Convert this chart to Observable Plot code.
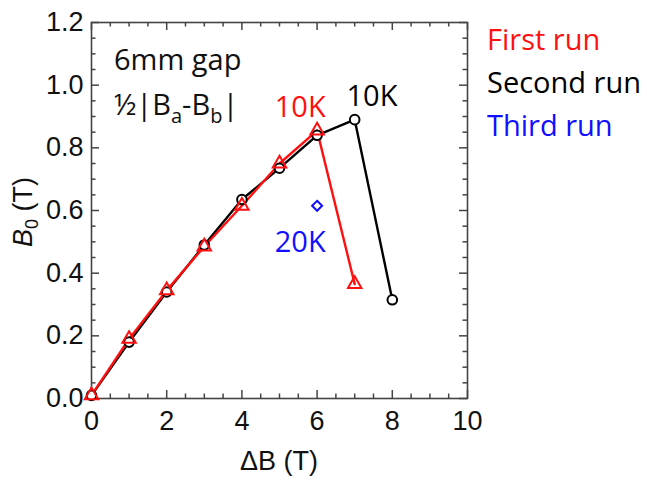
<!DOCTYPE html>
<html><head><meta charset="utf-8">
<script src="https://cdn.jsdelivr.net/npm/d3@7"></script>
<script src="https://cdn.jsdelivr.net/npm/@observablehq/plot@0.6"></script>
<style>body{margin:0;background:#fff}#chart{width:647px;height:480px}</style>
</head><body><div id="chart"></div>
<script>
// ---- data ----
const deltaBFirst = [0, 1, 2, 3, 4, 5, 6, 7];
const firstRun    = [0.01, 0.19, 0.345, 0.485, 0.615, 0.75, 0.855, 0.365];
const deltaBSecond = [0, 1, 2, 3, 4, 5, 6, 7, 8];
const secondRun    = [0.01, 0.18, 0.34, 0.49, 0.635, 0.735, 0.84, 0.89, 0.315];
const deltaBThird = [6];
const thirdRun    = [0.615];
const xTicks = [0, 2, 4, 6, 8, 10];
const yTicks = [0, 0.2, 0.4, 0.6, 0.8, 1.0, 1.2];
const xMinorTicks = [0.5,1,1.5,2.5,3,3.5,4.5,5,5.5,6.5,7,7.5,8.5,9,9.5];
const yMinorTicks = [0.05,0.1,0.15,0.25,0.3,0.35,0.45,0.5,0.55,0.65,0.7,0.75,0.85,0.9,0.95,1.05,1.1,1.15];
const tempLabels = ["10K", "10K", "20K"];
const tempLabelX = [5.55, 7.46, 5.55];
const tempLabelY = [0.929, 0.963, 0.497];
const legendNames = ["First run", "Second run", "Third run"];

const RED = "#ff1010", BLACK = "#000000", BLUE = "#1010ff";
const runColors = [RED, BLACK, BLUE];
const labelColors = [RED, BLACK, BLUE];

const first = deltaBFirst.map((x, i) => ({x, y: firstRun[i]}));
const second = deltaBSecond.map((x, i) => ({x, y: secondRun[i]}));
const third = deltaBThird.map((x, i) => ({x, y: thirdRun[i]}));
const labels = tempLabels.map((t, i) => ({t, x: tempLabelX[i], y: tempLabelY[i], c: labelColors[i]}));

const tickFont = "Liberation Sans, Arial, sans-serif";
const annFont = "Open Sans, sans-serif";
const frameColor = "#444";

const W = 647, H = 480, ML = 91, MR = 180, MT = 22, MB = 82;
const innerW = W - ML - MR, innerH = H - MT - MB;
const xDom = [0, 10], yDom = [0, 1.2];
// tick lengths in pixels, converted to data units
const MAJ = 8, MIN = 4.5;
const pxX = (xDom[1] - xDom[0]) / innerW, pxY = (yDom[1] - yDom[0]) / innerH;
const ts = {stroke: frameColor, strokeWidth: 1.5};

const plot = Plot.plot({
  width: W, height: H,
  marginLeft: ML, marginRight: MR, marginTop: MT, marginBottom: MB,
  x: {domain: xDom},
  y: {domain: yDom},
  style: {background: "white"},
  marks: [
    // inward ticks on all four sides
    Plot.ruleX(xTicks, {x: d => d, y1: yDom[0], y2: yDom[0] + MAJ * pxY, ...ts}),
    Plot.ruleX(xTicks, {x: d => d, y1: yDom[1], y2: yDom[1] - MAJ * pxY, ...ts}),
    Plot.ruleX(xMinorTicks, {x: d => d, y1: yDom[0], y2: yDom[0] + MIN * pxY, ...ts}),
    Plot.ruleX(xMinorTicks, {x: d => d, y1: yDom[1], y2: yDom[1] - MIN * pxY, ...ts}),
    Plot.ruleY(yTicks, {y: d => d, x1: xDom[0], x2: xDom[0] + MAJ * pxX, ...ts}),
    Plot.ruleY(yTicks, {y: d => d, x1: xDom[1], x2: xDom[1] - MAJ * pxX, ...ts}),
    Plot.ruleY(yMinorTicks, {y: d => d, x1: xDom[0], x2: xDom[0] + MIN * pxX, ...ts}),
    Plot.ruleY(yMinorTicks, {y: d => d, x1: xDom[1], x2: xDom[1] - MIN * pxX, ...ts}),
    // tick labels
    Plot.axisX(xTicks, {anchor: "bottom", tickSize: 0, tickPadding: 12, label: null, tickFormat: d3.format("d"), fontSize: 27, fontFamily: tickFont, fill: "#111"}),
    Plot.axisY(yTicks, {anchor: "left", tickSize: 0, tickPadding: 8, label: null, tickFormat: d3.format(".1f"), fontSize: 27, fontFamily: tickFont, fill: "#111"}),
    Plot.frame({stroke: frameColor, strokeWidth: 1.6}),
    // data
    Plot.line(second, {x: "x", y: "y", stroke: BLACK, strokeWidth: 2.4}),
    Plot.line(first, {x: "x", y: "y", stroke: RED, strokeWidth: 2.4}),
    Plot.dot(second, {x: "x", y: "y", r: 4.8, stroke: BLACK, fill: "white", strokeWidth: 2}),
    Plot.dot(first, {x: "x", y: "y", symbol: "triangle", r: 5, stroke: RED, fill: "none", strokeWidth: 2}),
    Plot.dot(third, {x: "x", y: "y", symbol: "diamond2", r: 4.5, stroke: BLUE, fill: "none", strokeWidth: 2}),
    Plot.text(labels, {x: "x", y: "y", text: "t", fill: "c", fontSize: 29, fontFamily: annFont, textAnchor: "middle", lineAnchor: "middle"})
  ]
});

const svg = d3.select(plot);
// "6mm gap"
svg.append("text").attr("x", 114).attr("y", 70).attr("text-anchor", "start")
  .attr("font-family", annFont).attr("font-size", 29).attr("fill", "#111").text("6mm gap");
// ½|Ba-Bb| annotation with subscripts
const t = svg.append("text").attr("x", 114).attr("y", 115).attr("text-anchor", "start")
  .attr("font-family", annFont).attr("font-size", 29).attr("fill", "#111");
t.append("tspan").text("½|B");
t.append("tspan").attr("font-size", 20).attr("dy", 8).text("a");
t.append("tspan").attr("dy", -8).text("-B");
t.append("tspan").attr("font-size", 20).attr("dy", 8).text("b");
t.append("tspan").attr("dy", -8).text("|");

// legend in right margin
legendNames.forEach((name, i) => {
  svg.append("text").attr("x", 487).attr("y", 50 + i * 43).attr("text-anchor", "start")
    .attr("font-family", annFont).attr("font-size", 29).attr("fill", runColors[i]).text(name);
});

// axis titles
svg.append("text").attr("x", 279).attr("y", 470).attr("text-anchor", "middle")
  .attr("font-family", tickFont).attr("font-size", 27).attr("fill", "#111").text("ΔB (T)");
const yl = svg.append("text").attr("transform", "translate(32,212) rotate(-90)").attr("text-anchor", "middle")
  .attr("font-family", tickFont).attr("font-size", 27).attr("fill", "#111");
yl.append("tspan").attr("font-style", "italic").text("B");
yl.append("tspan").attr("font-size", 18).attr("dy", 6).text("0");
yl.append("tspan").attr("dy", -6).text(" (T)");

document.getElementById("chart").appendChild(plot);
</script>
</body></html>
